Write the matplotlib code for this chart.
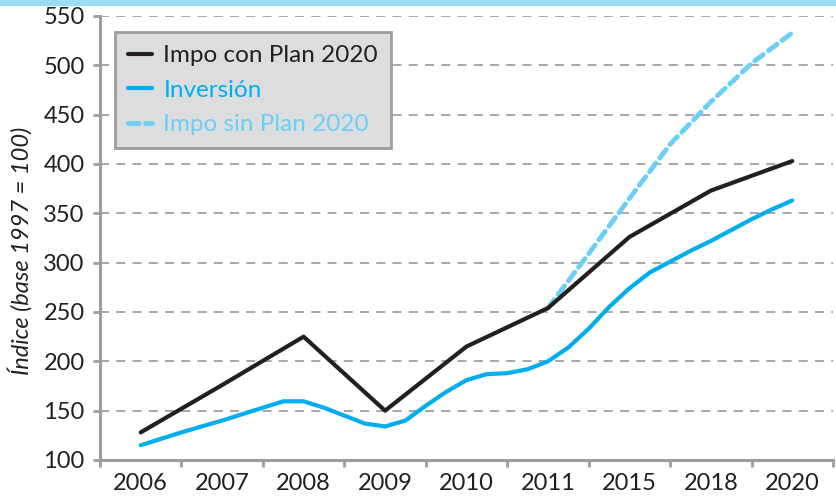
import matplotlib.pyplot as plt
import numpy as np

# categorias del eje x
anios = ['2006', '2007', '2008', '2009', '2010', '2011', '2015', '2018', '2020']

# Impo con Plan 2020 (un valor por categoria)
impo_con = [128, 176, 225, 150, 215, 254, 326, 373, 403]

# Inversion (datos trimestrales, posicion en categorias)
inv_pos = [0, 0.25, 0.5, 0.75, 1, 1.25, 1.5, 1.75, 2, 2.25, 2.5, 2.75, 3, 3.25, 3.5,
           3.75, 4, 4.25, 4.5, 4.75, 5, 5.25, 5.5, 5.75, 6, 6.25, 6.5, 6.75, 7,
           7.25, 7.5, 7.75, 8]
inversion = [115, 121.5, 128, 134, 140, 146.5, 153, 159.5, 159.5, 153, 145, 137, 134,
             140, 155, 169, 181, 187, 188, 192, 200, 214, 233, 255, 274, 290, 301,
             312, 322, 333, 344, 354, 363]

# Impo sin Plan 2020
sin_pos = [5, 5.5, 6, 6.5, 7, 7.5, 8]
impo_sin = [254, 309, 365, 420, 463, 502, 533]

c_negro = '#231f20'
c_azul = '#00aeef'
c_celeste = '#6dcff6'
c_gris = '#9d9d9d'

plt.rcParams['font.family'] = ['Lato', 'DejaVu Sans']

fig = plt.figure(figsize=(8.36, 4.97), dpi=100)
ax = fig.add_axes([100/836, 37/497, 733/836, 444/497])

# franja superior
fig.patches.append(plt.Rectangle((0, 1 - 5/497), 1, 5/497, transform=fig.transFigure,
                                 color='#9adcf5', zorder=0))

ax.plot(range(len(anios)), impo_con, color=c_negro, lw=3, label='Impo con Plan 2020',
        solid_capstyle='round', zorder=3)
ax.plot(inv_pos, inversion, color=c_azul, lw=3, label='Inversión',
        solid_capstyle='round', zorder=3)
ax.plot(sin_pos, impo_sin, color=c_celeste, lw=3.5, ls=(0, (2.2, 1.3)),
        label='Impo sin Plan 2020', dash_capstyle='round', zorder=2)

ax.set_xlim(-0.5, len(anios) - 0.5)
ax.set_ylim(100, 550)
ax.set_yticks(np.arange(100, 551, 50))
for v in np.arange(150, 551, 50):
    ax.axhline(v, color='#a0a0a0', lw=1.3, ls=(0, (5, 4)), zorder=1)

ax.set_xticks(np.arange(-0.5, len(anios)), labels=[''] * (len(anios) + 1))
ax.set_xticks(np.arange(len(anios)), labels=anios, minor=True)
ax.tick_params(axis='x', which='major', length=5, width=2, color=c_gris)
ax.tick_params(axis='x', which='minor', length=0, pad=9, labelsize=17, labelcolor=c_negro)
ax.tick_params(axis='y', length=5, width=2, color=c_gris, pad=6, labelsize=17,
               labelcolor=c_negro)

for s in ['top', 'right']:
    ax.spines[s].set_visible(False)
for s in ['left', 'bottom']:
    ax.spines[s].set_color(c_gris)
    ax.spines[s].set_linewidth(2.2)

ax.set_ylabel('Índice (base 1997 = 100)', fontsize=17, style='italic', color=c_negro)
ax.yaxis.set_label_coords(-0.092, 0.47)

leg = ax.legend(loc='upper left', bbox_to_anchor=(0.02, 0.964), borderaxespad=0,
                fontsize=17.5, frameon=True, fancybox=False, handlelength=1.0,
                handletextpad=0.45, labelspacing=0.55, borderpad=0.55)
leg.get_frame().set_facecolor('#dcddde')
leg.get_frame().set_edgecolor('#9d9d9d')
leg.get_frame().set_linewidth(2)
leg.get_frame().set_alpha(1)
for t, c in zip(leg.get_texts(), [c_negro, c_azul, c_celeste]):
    t.set_color(c)

fig.savefig('out.png', dpi=100)
